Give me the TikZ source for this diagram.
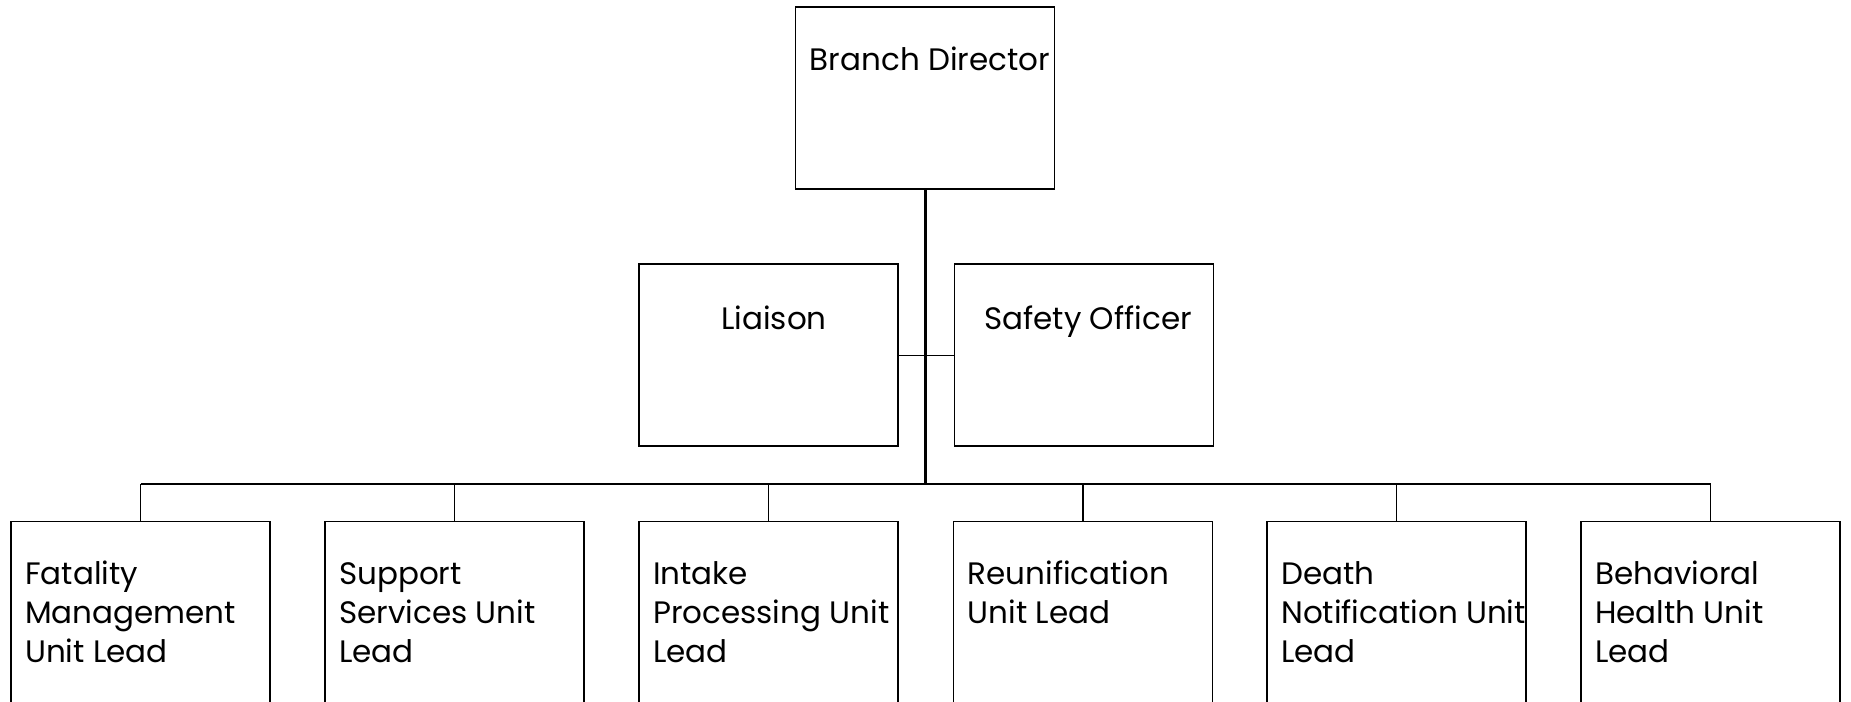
\documentclass[tikz,border=0pt]{standalone}
\usepackage{fontspec}
\setmainfont{Poppins}
\begin{document}
\begin{tikzpicture}[x=1pt,y=-1pt,
  orgbox/.style={draw=black, line width=1.6pt, rectangle, inner sep=0pt, outer sep=0pt,
                 minimum width=259pt},
  topbox/.style={orgbox, minimum height=182pt},
  unitbox/.style={orgbox, minimum height=200pt},
  toptext/.style={anchor=base, inner sep=0pt, font=\fontsize{31}{39}\selectfont},
  unittext/.style={anchor=north west, inner sep=0pt, align=left,
                   font=\fontsize{31}{39}\selectfont},
  trunk/.style={line width=3pt},
  bus/.style={line width=2pt},
  drop/.style={line width=1.4pt}]
\useasboundingbox (0,0) rectangle (1851,701);
\clip (0,0) rectangle (1851,701);

% director and staff boxes
\node[topbox] (bd) at (925,98) {};
\node[topbox] (li) at (768.5,355.25) {};
\node[topbox] (so) at (1084,355.25) {};
\node[toptext] (bdt) at (930,70.7) {Branch Director};
\node[toptext] (lit) at (774,329) {Liaison};
\node[toptext] (sot) at (1088,329) {Safety Officer};

% unit lead boxes
\foreach \i/\cx in {1/140.5,2/454.5,3/768.5,4/1083,5/1396.5,6/1710.5}{
  \node[unitbox, anchor=north] (u\i) at (\cx,521.5) {};
}
\newcommand\firstline{\rule{0pt}{30pt}}
\node[unittext] (u1t) at ([xshift=14pt]u1.north west |- 0,554) {\firstline Fatality\\Management\\Unit Lead};
\node[unittext] (u2t) at ([xshift=14pt]u2.north west |- 0,554) {\firstline Support\\Services Unit\\Lead};
\node[unittext] (u3t) at ([xshift=14pt]u3.north west |- 0,554) {\firstline Intake\\Processing Unit\\Lead};
\node[unittext] (u4t) at ([xshift=14pt]u4.north west |- 0,554) {\firstline Reunification\\Unit Lead};
\node[unittext] (u5t) at ([xshift=14pt]u5.north west |- 0,554) {\firstline Death\\Notification Unit\\Lead};
\node[unittext] (u6t) at ([xshift=14pt]u6.north west |- 0,554) {\firstline Behavioral\\Health Unit\\Lead};

% connectors
\coordinate (busc) at (925,484);
\draw[trunk] (bd.south) -- (busc);
\draw[drop] (li.east) -- (so.west);
\draw[bus] (u1.north |- busc) -- (u6.north |- busc);
\foreach \i in {1,...,6}{
  \draw[drop] (u\i.north |- busc) -- (u\i.north);
}
\end{tikzpicture}
\end{document}
